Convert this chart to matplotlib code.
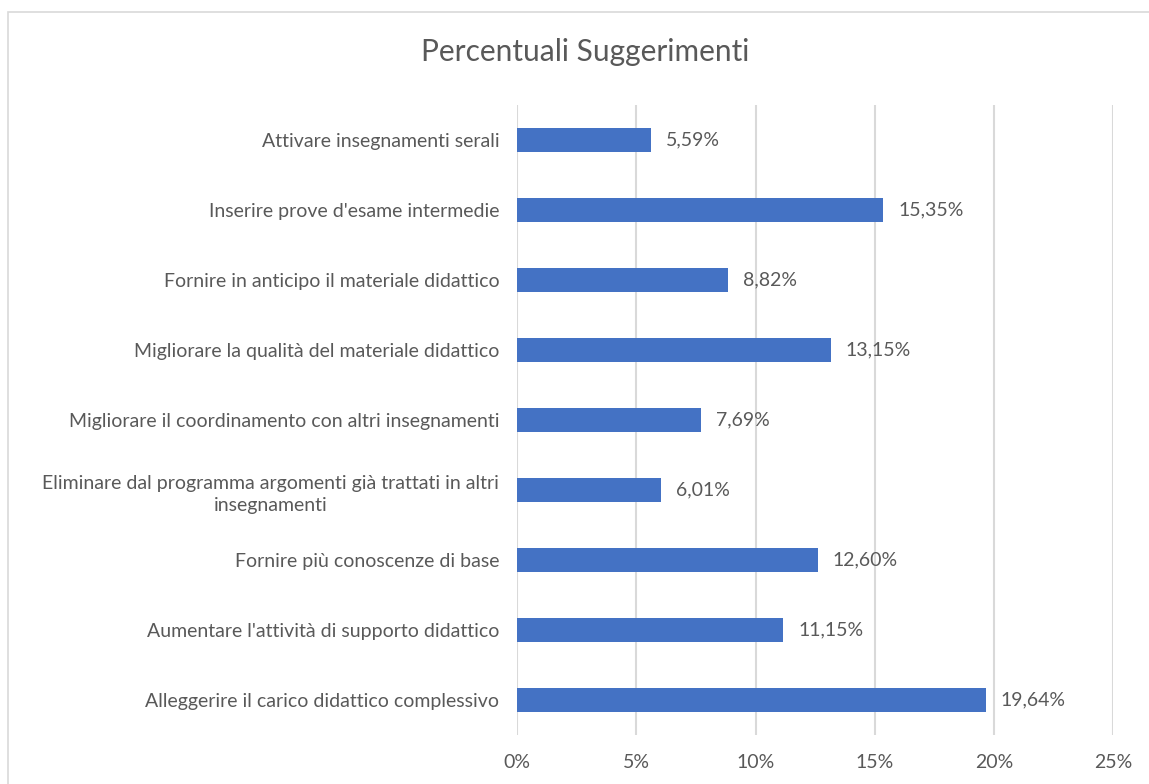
import matplotlib
matplotlib.use("Agg")
import matplotlib.pyplot as plt
from matplotlib.patches import Rectangle
from matplotlib.ticker import FuncFormatter

categories = [
    "Alleggerire il carico didattico complessivo",
    "Aumentare l'attività di supporto didattico",
    "Fornire più conoscenze di base",
    "Eliminare dal programma argomenti già trattati in altri\ninsegnamenti",
    "Migliorare il coordinamento con altri insegnamenti",
    "Migliorare la qualità del materiale didattico",
    "Fornire in anticipo il materiale didattico",
    "Inserire prove d'esame intermedie",
    "Attivare insegnamenti serali",
]
values = [19.64, 11.15, 12.60, 6.01, 7.69, 13.15, 8.82, 15.35, 5.59]
x_ticks = [0, 5, 10, 15, 20, 25]

plt.rcParams['font.family'] = ['Lato', 'DejaVu Sans']
txt = '#595959'

W, H = 1149, 784
fig = plt.figure(figsize=(W / 100, H / 100), dpi=100)
fig.patches.append(Rectangle((8 / W, -0.1), 1.2, 1 - 12 / H + 0.1, transform=fig.transFigure,
                             fill=False, edgecolor='#D9D9D9', linewidth=1.2))

ax = fig.add_axes([517.3 / W, 1 - 735 / H, (1113.3 - 517.3) / W, (735 - 105) / H])
y = list(range(len(categories)))
ax.barh(y, values, height=0.35, color='#4472C4', zorder=3)
for yi, v in zip(y, values):
    ax.annotate(f"{v:.2f}%".replace('.', ','), xy=(v, yi), xytext=(15, 0),
                textcoords='offset pixels',
                va='center', ha='left', fontsize=14, color=txt)

ax.set_xlim(0, 25)
ax.set_ylim(-0.5, len(categories) - 0.5)
ax.set_xticks(x_ticks)
ax.xaxis.set_major_formatter(FuncFormatter(lambda v, p: f"{v:.0f}%"))
ax.set_yticks(y)
ax.set_yticklabels(categories, multialignment='center', linespacing=1.4)
ax.tick_params(axis='both', length=0, labelsize=14, colors=txt)
ax.tick_params(axis='y', pad=13)
ax.tick_params(axis='x', pad=14)
ax.grid(axis='x', color='#D9D9D9', linewidth=1.5, zorder=0)
for s in ax.spines.values():
    s.set_visible(False)

fig.text((422 + 748) / 2 / W, 1 - 52 / H, "Percentuali Suggerimenti", ha='center', va='center',
         fontsize=21.5, color=txt)

fig.savefig("out.png", dpi=100)
